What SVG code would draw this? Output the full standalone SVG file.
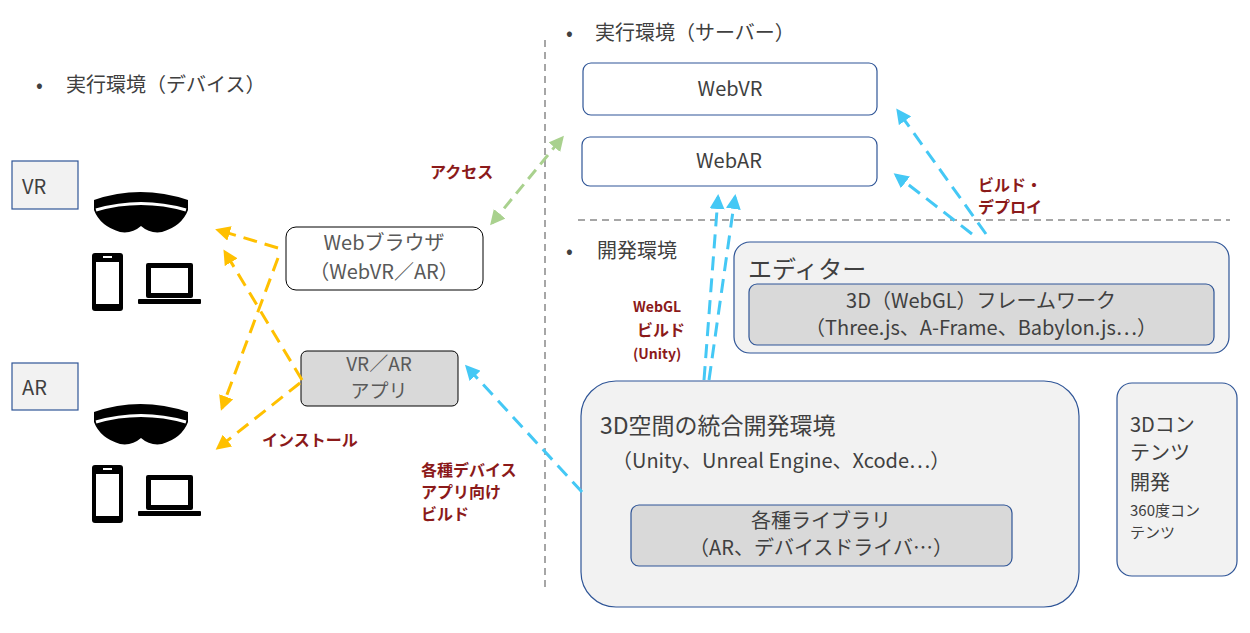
<svg xmlns="http://www.w3.org/2000/svg" width="1250" height="633" viewBox="0 0 1250 633">
<defs>
<style>
text{font-family:"Noto Sans CJK JP","Noto Sans",sans-serif;fill:#404040}
.t{font-size:20px}
.r{font-size:16px;font-weight:bold;fill:#8b1a1a}
.box{stroke:#2f5597;stroke-width:1.2}
.y{stroke:#ffc000;stroke-width:3;stroke-dasharray:14,8;fill:none}
.b{stroke:#44c8f5;stroke-width:3;stroke-dasharray:14,8;fill:none}
.g{stroke:#a9d18e;stroke-width:3;stroke-dasharray:12,7;fill:none}
.sep{stroke:#a6a6a6;stroke-width:2;stroke-dasharray:7,5}
</style>
<marker id="my" viewBox="0 0 10 10" refX="8" refY="5" markerWidth="5" markerHeight="5" orient="auto-start-reverse"><path d="M0,0L10,5L0,10z" fill="#ffc000"/></marker>
<marker id="mb" viewBox="0 0 10 10" refX="8" refY="5" markerWidth="5" markerHeight="5" orient="auto-start-reverse"><path d="M0,0L10,5L0,10z" fill="#44c8f5"/></marker>
<marker id="mg" viewBox="0 0 10 10" refX="8" refY="5" markerWidth="5" markerHeight="5" orient="auto-start-reverse"><path d="M0,0L10,5L0,10z" fill="#a9d18e"/></marker>
<g id="dev">
<path d="M94,200 Q140,184 188,200 L188,210 Q182,226 162,232 Q150,234 141,226 Q132,234 120,232 Q100,226 94,210Z" fill="#000"/>
<path d="M96,210 Q141,197 186,210" stroke="#fff" stroke-width="3" fill="none"/>
<rect x="92" y="253" width="31" height="58" rx="3" fill="#000"/>
<rect x="96" y="262" width="23" height="42" fill="#fff"/>
<rect x="103" y="256" width="9" height="2" fill="#fff"/>
<rect x="146" y="263" width="47" height="35" rx="2" fill="#000"/>
<rect x="151" y="268" width="37" height="25" fill="#fff"/>
<rect x="138" y="299" width="63" height="5" rx="1" fill="#000"/>
</g>
</defs>
<rect width="1250" height="633" fill="#fff"/>
<line class="sep" x1="545" y1="40" x2="545" y2="588"/>
<line class="sep" x1="578" y1="220" x2="1230" y2="220"/>
<text class="t" x="36" y="92">•</text><text class="t" x="66" y="92">実行環境（デバイス）</text>
<text class="t" x="566" y="40">•</text><text class="t" x="595" y="40">実行環境（サーバー）</text>
<text class="t" x="566" y="258">•</text><text class="t" x="597" y="258">開発環境</text>
<g id="vr"><rect x="12" y="161" width="66" height="48" fill="#f2f2f2" class="box"/><text class="t" x="22" y="194">VR</text></g>
<g id="ar"><rect x="12" y="363" width="66" height="47" fill="#f2f2f2" class="box"/><text class="t" x="22" y="395">AR</text></g>
<g id="devices1"><use href="#dev"/></g>
<g id="devices2"><use href="#dev" y="212"/></g>
<g id="browser"><rect x="286" y="227" width="197" height="63" rx="10" fill="#fff" stroke="#000"/><text class="t" x="384" y="250" text-anchor="middle" style="fill:#595959">Webブラウザ</text><text class="t" x="384" y="279" text-anchor="middle" style="fill:#595959">（WebVR／AR）</text></g>
<g id="app"><rect x="301" y="351" width="157" height="55" rx="6" fill="#d9d9d9" stroke="#000"/><text x="379" y="371" text-anchor="middle" style="fill:#595959;font-size:19px">VR／AR</text><text x="379" y="398" text-anchor="middle" style="fill:#595959;font-size:19px">アプリ</text></g>
<g id="webvr"><rect x="583" y="63" width="294" height="52" rx="8" fill="#fff" class="box"/><text class="t" x="730" y="96" text-anchor="middle">WebVR</text></g>
<g id="webar"><rect x="582" y="137" width="295" height="49" rx="8" fill="#fff" class="box"/><text class="t" x="729" y="168" text-anchor="middle">WebAR</text></g>
<g id="editor"><rect x="734" y="242" width="495" height="111" rx="16" fill="#f2f2f2" class="box"/><text x="748" y="278" style="font-size:24px">エディター</text>
<rect x="749" y="284" width="465" height="61" rx="8" fill="#d9d9d9" class="box"/><text class="t" x="981" y="308" text-anchor="middle">3D（WebGL）フレームワーク</text><text class="t" x="981" y="335" text-anchor="middle">（Three.js、A-Frame、Babylon.js…）</text></g>
<g id="ide"><rect x="581" y="381" width="498" height="226" rx="35" fill="#f2f2f2" class="box"/><text x="600" y="434" style="font-size:23px">3D空間の統合開発環境</text><text class="t" x="612" y="468">（Unity、Unreal Engine、Xcode…）</text>
<rect x="631" y="505" width="381" height="61" rx="8" fill="#d9d9d9" class="box"/><text class="t" x="821" y="528" text-anchor="middle">各種ライブラリ</text><text class="t" x="821" y="555" text-anchor="middle">（AR、デバイスドライバ…）</text></g>
<g id="contents"><rect x="1117" y="383" width="120" height="193" rx="15" fill="#f2f2f2" class="box"/><text class="t" x="1130" y="432">3Dコン</text><text class="t" x="1130" y="460">テンツ</text><text class="t" x="1130" y="490">開発</text><text x="1130" y="516" style="font-size:15px">360度コン</text><text x="1130" y="538" style="font-size:15px">テンツ</text></g>
<g id="connectors">
<path class="y" d="M278,248 L218,230" marker-end="url(#my)"/>
<path class="y" d="M278,258 L222,408" marker-end="url(#my)"/>
<path class="y" d="M302,380 L225,252" marker-end="url(#my)"/>
<path class="y" d="M300,383 L218,448" marker-end="url(#my)"/>
<path class="g" d="M492,223 L562,138" marker-start="url(#mg)" marker-end="url(#mg)"/>
<path class="b" d="M582,492 L467,367" marker-end="url(#mb)"/>
<path class="b" d="M704,380 L718,197" marker-end="url(#mb)"/>
<path class="b" d="M709,380 L735,197" marker-end="url(#mb)"/>
<path class="b" d="M972,234 L896,175" marker-end="url(#mb)"/>
<path class="b" d="M986,234 L898,111" marker-end="url(#mb)"/>
</g>
<text class="r" x="430" y="178">アクセス</text>
<text class="r" x="262" y="446">インストール</text>
<text class="r" x="421" y="476">各種デバイス</text>
<text class="r" x="421" y="498">アプリ向け</text>
<text class="r" x="421" y="520">ビルド</text>
<text class="r" x="633" y="312" style="font-size:14px">WebGL</text>
<text class="r" x="637" y="336">ビルド</text>
<text class="r" x="633" y="359" style="font-size:14px">(Unity)</text>
<text class="r" x="978" y="191">ビルド・</text>
<text class="r" x="978" y="213">デプロイ</text>
</svg>
